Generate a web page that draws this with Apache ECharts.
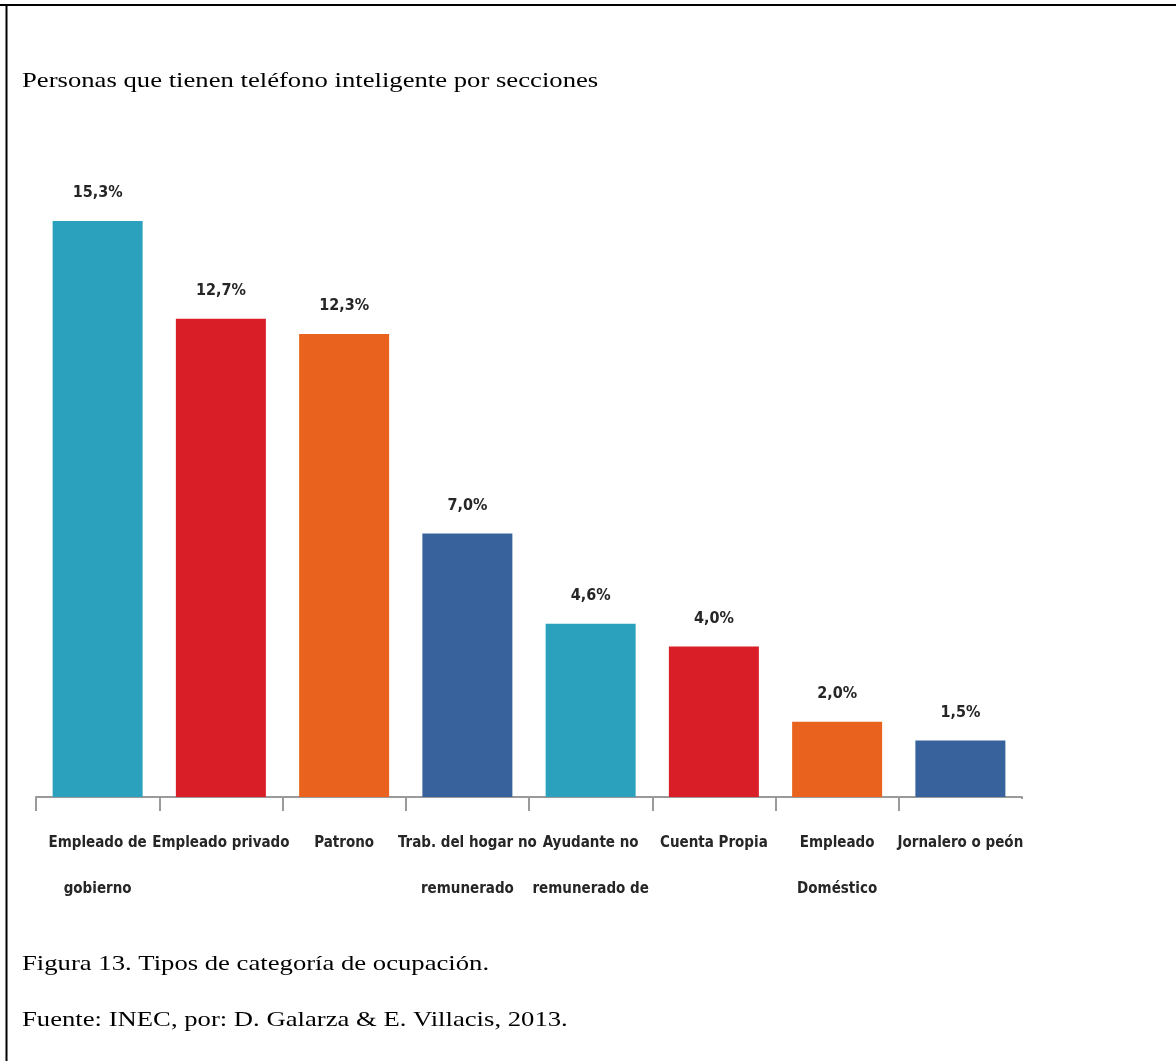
<!DOCTYPE html>
<html>
<head>
<meta charset="utf-8">
<script src="https://cdn.jsdelivr.net/npm/echarts@6/dist/echarts.min.js"></script>
<style>
html,body{margin:0;padding:0;background:#fff;}
#chart{width:1176px;height:1061px;}
</style>
</head>
<body>
<div id="chart"></div>
<script>
const categories = [
  "Empleado de\ngobierno",
  "Empleado privado",
  "Patrono",
  "Trab. del hogar no\nremunerado",
  "Ayudante no\nremunerado de",
  "Cuenta Propia",
  "Empleado\nDoméstico",
  "Jornalero o peón"
];
const values = [15.3, 12.7, 12.3, 7.0, 4.6, 4.0, 2.0, 1.5];
const barColors = ["#2BA1BE", "#D91E28", "#E9631E", "#37629B", "#2BA1BE", "#D91E28", "#E9631E", "#37629B"];
const titleText = "Personas que tienen teléfono inteligente por secciones";
const figureText = "Figura 13. Tipos de categoría de ocupación.";
const sourceText = "Fuente: INEC, por: D. Galarza & E. Villacis, 2013.";

const narrow = "'Liberation Sans Narrow', 'DejaVu Sans Condensed', 'Arial Narrow', sans-serif";
const serif = "'Liberation Serif', 'Times New Roman', serif";

function docText(txt, y) {
  return {
    type: 'text', x: 22, y: y, scaleX: 1.27, originX: 0, originY: y,
    style: {text: txt, fill: '#000', font: "21px " + serif, textVerticalAlign: 'middle', verticalAlign: 'middle'}
  };
}

const chart = echarts.init(document.getElementById('chart'), null, {renderer: 'canvas'});
chart.setOption({
  animation: false,
  backgroundColor: '#fff',
  graphic: [
    {type: 'line', shape: {x1: 0, y1: 5, x2: 1176, y2: 5}, style: {stroke: '#000', lineWidth: 2}},
    {type: 'line', shape: {x1: 6.5, y1: 4, x2: 6.5, y2: 1061}, style: {stroke: '#000', lineWidth: 2}},
    docText(titleText, 81),
    docText(figureText, 964),
    docText(sourceText, 1020),
    {type: 'rect', shape: {x: 1018, y: 799, width: 8, height: 16}, style: {fill: '#fff'}, z: 100}
  ],
  grid: {left: 36, right: 154, top: 44, bottom: 264, containLabel: false},
  xAxis: {
    type: 'category',
    data: categories,
    boundaryGap: true,
    axisLine: {lineStyle: {color: '#9a9a9a', width: 2}},
    axisTick: {show: true, length: 14, lineStyle: {color: '#9a9a9a', width: 2}},
    axisLabel: {
      interval: 0, margin: 23, lineHeight: 46,
      fontFamily: narrow, fontSize: 15, fontWeight: 'bold', color: '#262626'
    }
  },
  yAxis: {type: 'value', min: 0, max: 20, show: false, splitLine: {show: false}},
  series: [{
    type: 'bar',
    data: values.map((v, i) => ({value: v, itemStyle: {color: barColors[i]}})),
    barWidth: 90,
    label: {
      show: true, position: 'top', distance: 20,
      fontFamily: narrow, fontSize: 16, fontWeight: 'bold', color: '#262626',
      formatter: p => p.value.toFixed(1).replace('.', ',') + '%'
    }
  }]
});
</script>
</body>
</html>
